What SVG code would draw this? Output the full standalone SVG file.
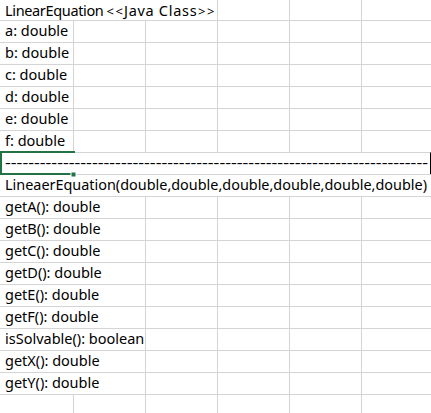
<svg xmlns="http://www.w3.org/2000/svg" width="431" height="413" viewBox="0 0 431 413">
<style>
.g{stroke:#d4d4d4;stroke-width:1;fill:none}
.t{font-family:"Noto Sans","Open Sans","Liberation Sans",sans-serif;font-size:14.5px;fill:#000}
.ab{font-size:13px;letter-spacing:1.5px}
.sel{stroke:#217346;stroke-width:2;fill:none}
</style>
<rect width="431" height="413" fill="#ffffff"/>
<g id="grid">
<path class="g" d="M0 20.5H431M0 42.5H431M0 64.5H431M0 86.5H431M0 108.5H431M0 130.5H431M0 152.5H431M0 174.5H431M0 196.5H431M0 218.5H431M0 240.5H431M0 262.5H431M0 284.5H431M0 306.5H431M0 328.5H431M0 350.5H431M0 372.5H431M0 394.5H431"/>
<path class="g" d="M217.5 0V20.5M289.5 0V20.5M361.5 0V20.5"/>
<path class="g" d="M73.5 20.5V152.5M145.5 20.5V152.5M217.5 20.5V152.5M289.5 20.5V152.5M361.5 20.5V152.5"/>
<path class="g" d="M145.5 196.5V394.5M217.5 196.5V394.5M289.5 196.5V394.5M361.5 196.5V394.5"/>
<path class="g" d="M73.5 394.5V413M145.5 394.5V413M217.5 394.5V413M289.5 394.5V413M361.5 394.5V413"/>
</g>
<g id="selection">
<path class="sel" d="M75 152H1V174H71"/>
<rect x="71" y="172" width="5" height="5" fill="#217346" stroke="#ffffff" stroke-width="1"/>
<line x1="430.5" y1="152.5" x2="430.5" y2="174" stroke="#000" stroke-width="1"/>
</g>
<g id="cells">
<text class="t" x="5" y="15.5"><tspan style="letter-spacing:-0.35px">LinearEquation</tspan><tspan class="ab" x="106.5">&lt;&lt;</tspan><tspan x="124" style="letter-spacing:0.7px">Java Class</tspan><tspan class="ab" x="198">&gt;&gt;</tspan></text>
<text class="t" x="5" y="36">a: double</text>
<text class="t" x="5" y="58">b: double</text>
<text class="t" x="5" y="80">c: double</text>
<text class="t" x="5" y="102">d: double</text>
<text class="t" x="5" y="124">e: double</text>
<text class="t" x="5" y="146">f: double</text>
<text class="t" x="5" y="168" textLength="423" lengthAdjust="spacingAndGlyphs">-------------------------------------------------------------------------</text>
<text class="t" x="5" y="190" textLength="422" lengthAdjust="spacingAndGlyphs">LineaerEquation(double,double,double,double,double,double)</text>
<text class="t" x="5" y="212">getA(): double</text>
<text class="t" x="5" y="234">getB(): double</text>
<text class="t" x="5" y="256">getC(): double</text>
<text class="t" x="5" y="278">getD(): double</text>
<text class="t" x="5" y="300">getE(): double</text>
<text class="t" x="5" y="322">getF(): double</text>
<text class="t" x="5" y="344">isSolvable(): boolean</text>
<text class="t" x="5" y="366">getX(): double</text>
<text class="t" x="5" y="388">getY(): double</text>
</g>
</svg>
